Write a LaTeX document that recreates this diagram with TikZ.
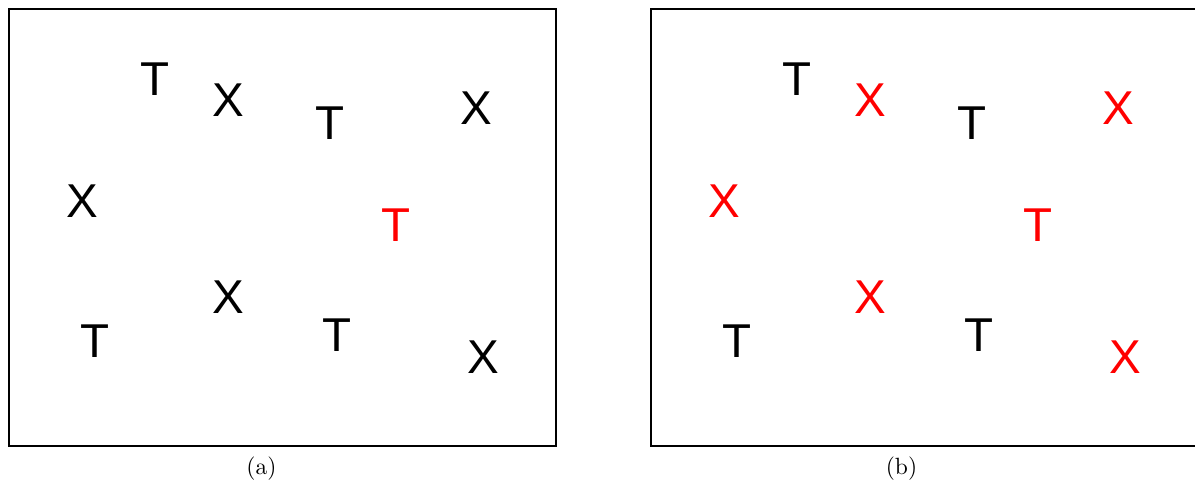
\documentclass[tikz,border=0pt]{standalone}
\usepackage{fontspec}
\newfontfamily\arialf{Liberation Sans}
\begin{document}
\begin{tikzpicture}[x=1pt,y=-1pt,
  lab/.style={font=\arialf\fontsize{47.5}{50}\selectfont, inner sep=0pt, anchor=base},
  captext/.style={font=\fontsize{10}{12}\selectfont, inner sep=0pt, scale=2.35},
  panel/.style={draw=black, line width=1.5pt}]
\useasboundingbox (0,0) rectangle (1195,486);
\begin{scope}
\clip (0,0) rectangle (1195,486);
\draw[panel] (9,9) rectangle (556,446);
\draw[panel] (651,9) rectangle (1198,446);
\end{scope}
% panel (a)
\node[lab] (a1) at (155,96) {T};
\node[lab] (a2) at (228,117) {X};
\node[lab] (a3) at (330,140) {T};
\node[lab] (a4) at (476,125) {X};
\node[lab] (a5) at (82,218) {X};
\node[lab,red] (a6) at (396,242) {T};
\node[lab] (a7) at (228,314) {X};
\node[lab] (a8) at (95,358) {T};
\node[lab] (a9) at (337,352) {T};
\node[lab] (a10) at (483,374) {X};
% panel (b)
\node[lab] (b1) at (797,96) {T};
\node[lab,red] (b2) at (870,117) {X};
\node[lab] (b3) at (972,140) {T};
\node[lab,red] (b4) at (1118,125) {X};
\node[lab,red] (b5) at (724,218) {X};
\node[lab,red] (b6) at (1038,242) {T};
\node[lab,red] (b7) at (870,314) {X};
\node[lab] (b8) at (737,358) {T};
\node[lab] (b9) at (979,352) {T};
\node[lab,red] (b10) at (1125,374) {X};
\node[captext] (ca) at (261.5,469) {(a)};
\node[captext] (cb) at (901.5,469) {(b)};
\end{tikzpicture}
\end{document}
